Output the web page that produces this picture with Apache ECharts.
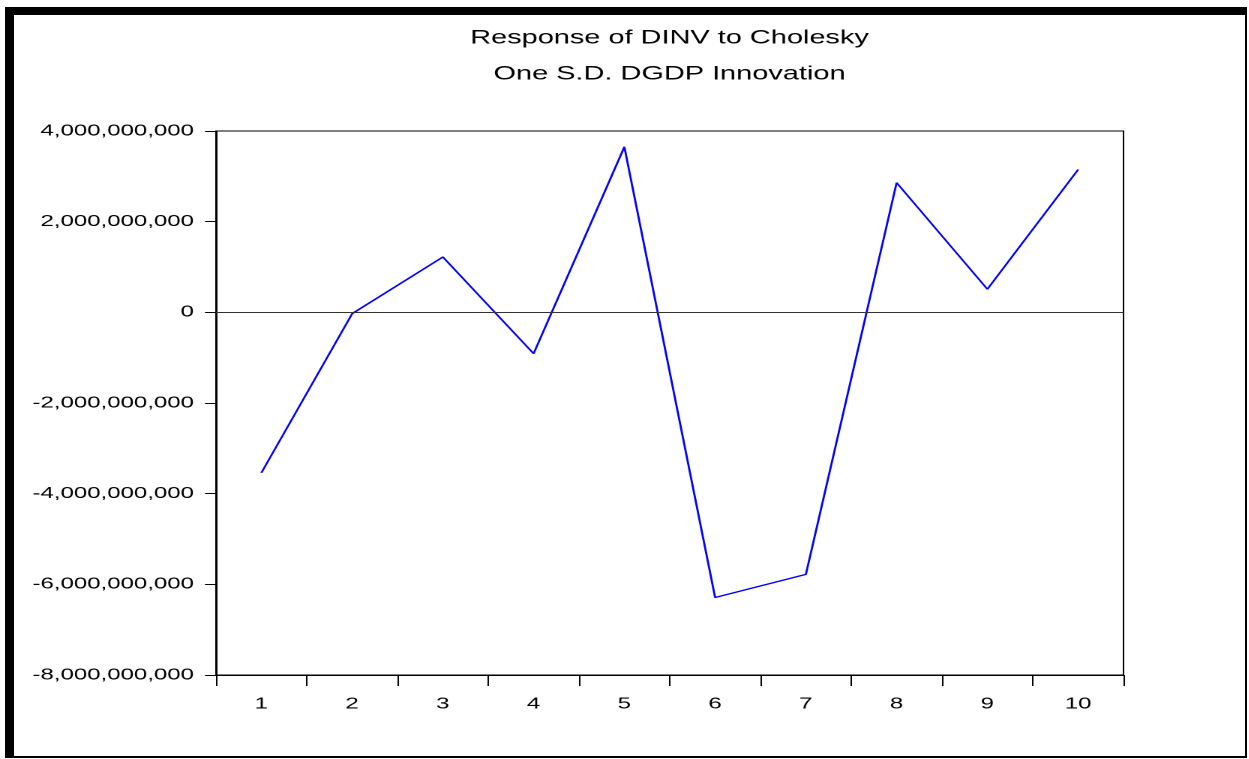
<!DOCTYPE html>
<html>
<head>
<meta charset="utf-8">
<title>Response of DINV to Cholesky One S.D. DGDP Innovation</title>
<script src="https://cdn.jsdelivr.net/npm/echarts@6/dist/echarts.min.js"></script>
<style>
  html, body { margin: 0; padding: 0; background: #fff; overflow: hidden; }
  #page { position: relative; width: 1249px; height: 759px; overflow: hidden; }
  /* the chart is laid out narrow and stretched horizontally, like the wide EViews export */
  #chart { position: absolute; left: 0; top: 0; width: 832.67px; height: 759px;
           transform: scaleX(1.5); transform-origin: 0 0; }
  #frame { position: absolute; left: 5px; top: 7px; width: 1231px; height: 741px;
           border-left: 9px solid #000; border-top: 8px solid #000;
           border-right: 2px solid #000; border-bottom: 2px solid #000; pointer-events: none; }
</style>
</head>
<body>
<div id="page">
  <div id="chart"></div>
  <div id="frame"></div>
</div>
<script>
// Impulse response periods
const periods = ['1', '2', '3', '4', '5', '6', '7', '8', '9', '10'];
// Response of DINV to a one S.D. DGDP shock
const response = [-3.54e9, -0.03e9, 1.22e9, -0.91e9, 3.65e9, -6.29e9, -5.78e9, 2.86e9, 0.51e9, 3.15e9];
// Value axis range
const yMin = -8e9;
const yMax = 4e9;
const yStep = 2e9;
const titleLines = ['Response of DINV to Cholesky', 'One S.D. DGDP Innovation'];

const SX = 1.5; // horizontal stretch applied by CSS
const font = '"Liberation Sans", Arial, sans-serif';
const chart = echarts.init(document.getElementById('chart'), null, { renderer: 'canvas', devicePixelRatio: 2 });

chart.setOption({
  animation: false,
  backgroundColor: '#fff',
  title: {
    text: titleLines.join('\n'),
    left: 662 / SX,
    textAlign: 'center',
    top: 15,
    textStyle: { fontFamily: font, fontSize: 19.3, fontWeight: 'normal', color: '#000', lineHeight: 36 }
  },
  grid: {
    left: 216 / SX, right: 126 / SX, top: 131, bottom: 84,
    show: true, borderColor: '#000', borderWidth: 1, backgroundColor: 'transparent'
  },
  xAxis: {
    type: 'category',
    data: periods,
    boundaryGap: true,
    axisLine: { onZero: false, lineStyle: { color: '#000', width: 1 } },
    axisTick: { show: true, inside: false, length: 11, alignWithLabel: false, lineStyle: { color: '#000' } },
    axisLabel: { margin: 21, fontFamily: font, fontSize: 16, color: '#000' },
    splitLine: { show: false }
  },
  yAxis: {
    type: 'value',
    min: yMin, max: yMax, interval: yStep,
    axisLine: { show: true, onZero: false, lineStyle: { color: '#000', width: 1 } },
    axisTick: { show: true, inside: false, length: 11 / SX, lineStyle: { color: '#000' } },
    axisLabel: {
      margin: 22 / SX, fontFamily: font, fontSize: 16, color: '#000',
      formatter: v => Math.round(v).toLocaleString('en-US')
    },
    splitLine: { show: false }
  },
  series: [{
    type: 'line',
    data: response,
    symbol: 'none',
    lineStyle: { color: '#0000ff', width: 1.4 },
    markLine: {
      silent: true,
      symbol: 'none',
      label: { show: false },
      lineStyle: { color: '#333', width: 1, type: 'solid' },
      data: [{ yAxis: 0 }]
    }
  }]
});
</script>
</body>
</html>
